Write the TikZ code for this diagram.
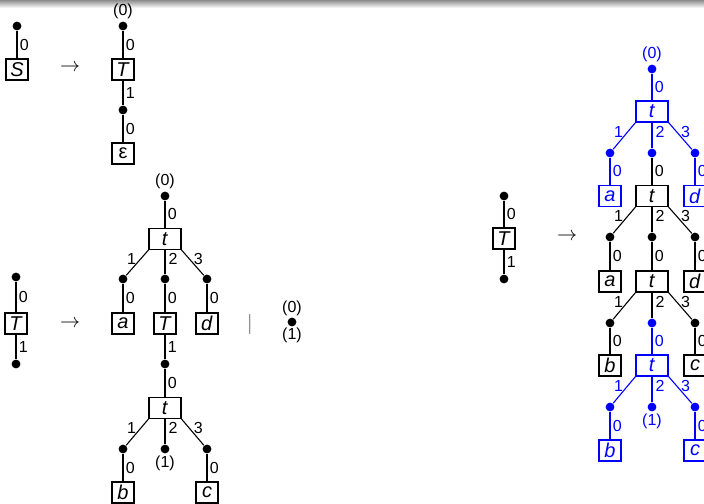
\documentclass[tikz,border=0pt]{standalone}
\usepackage{fontspec}
\setmainfont{Liberation Sans}
\usepackage{xcolor}

\tikzset{
  dot/.style={circle,fill,inner sep=0pt,minimum size=4.4pt},
  box/.style={draw,rectangle,inner sep=0pt,minimum width=11pt,minimum height=10.5pt,font=\fontsize{10}{12}\selectfont},
  wbox/.style={box,minimum width=16pt},
  lab/.style={inner sep=1.2pt,font=\fontsize{8}{9}\selectfont},
  arr/.style={inner sep=0pt,font=\fontsize{10}{11}\selectfont}
}

\begin{document}
\begin{tikzpicture}[x=0.5pt,y=-0.5pt,line width=0.55pt]
\useasboundingbox (0,0) rectangle (704,503);
\fill[white] (0,0) rectangle (704,503);
\shade[top color=black!45,bottom color=white] (0,0) rectangle (704,8);

% S -> T eps
\node[dot] (s0) at (17,26) {};
\node[box] (S) at (17,69.5) {\textit{S}};
\draw (s0) -- node[lab,right]{0} (S);
\node[arr] (ar1) at (70,68) {$\rightarrow$};
\node[dot,label={[lab,inner sep=0.6pt]above:(0)}] (u0) at (123,26) {};
\node[box] (uT) at (123,69.5) {\textit{T}};
\node[dot] (u1) at (123,110) {};
\node[box] (ueps) at (123,153.5) {ε};
\draw (u0) -- node[lab,right]{0} (uT);
\draw (uT) -- node[lab,right]{1} (u1);
\draw (u1) -- node[lab,right]{0} (ueps);

% T -> t(a,T,d) | (0)(1)
\node[dot] (v0) at (16,277) {};
\node[box] (vT) at (16,323.5) {\textit{T}};
\node[dot] (v1) at (16,364) {};
\draw (v0) -- node[lab,right]{0} (vT);
\draw (vT) -- node[lab,right]{1} (v1);
\node[arr] (ar2) at (70,324) {$\rightarrow$};

\node[dot,label={[lab,inner sep=0.6pt]above:(0)}] (m0) at (165,196) {};
\node[wbox] (mt1) at (165,239) {\textit{t}};
\node[dot] (m1a) at (123,279) {};
\node[dot] (m1b) at (165,279) {};
\node[dot] (m1c) at (207,279) {};
\node[box] (ma) at (123,323.5) {\textit{a}};
\node[box] (mT) at (165,323.5) {\textit{T}};
\node[box] (md) at (207,323.5) {\textit{d}};
\draw (m0) -- node[lab,right]{0} (mt1);
\draw (mt1.south west) -- node[lab,left,pos=0.35,inner sep=2pt]{1} (m1a);
\draw (mt1) -- node[lab,right,pos=0.35,inner sep=1.5pt]{2} (m1b);
\draw (mt1.south east) -- node[lab,right,pos=0.35,inner sep=2pt]{3} (m1c);
\draw (m1a) -- node[lab,right]{0} (ma);
\draw (m1b) -- node[lab,right]{0} (mT);
\draw (m1c) -- node[lab,right]{0} (md);
\node[dot] (m2) at (165,364) {};
\node[wbox] (mt2) at (165,408) {\textit{t}};
\node[dot] (m3a) at (123,449) {};
\node[dot,label={[lab,inner sep=0.6pt]below:(1)}] (m3b) at (165,449) {};
\node[dot] (m3c) at (207,449) {};
\node[box] (mb) at (123,492.5) {\textit{b}};
\node[box] (mc) at (207,492.5) {\textit{c}};
\draw (mT) -- node[lab,right]{1} (m2);
\draw (m2) -- node[lab,right]{0} (mt2);
\draw (mt2.south west) -- node[lab,left,pos=0.35,inner sep=2pt]{1} (m3a);
\draw (mt2) -- node[lab,right,pos=0.35,inner sep=1.5pt]{2} (m3b);
\draw (mt2.south east) -- node[lab,right,pos=0.35,inner sep=2pt]{3} (m3c);
\draw (m3a) -- node[lab,right]{0} (mb);
\draw (m3c) -- node[lab,right]{0} (mc);

\node[arr,text=black!70] (bar) at (250,324) {$|$};
\node[dot,label={[lab,inner sep=0.3pt]above:(0)},label={[lab,inner sep=0.3pt]below:(1)}] (n0) at (292,322) {};

% T -> derived tree
\node[dot] (w0) at (504,196) {};
\node[box] (wT) at (504,238.5) {\textit{T}};
\node[dot] (w1) at (504,279) {};
\draw (w0) -- node[lab,right]{0} (wT);
\draw (wT) -- node[lab,right]{1} (w1);
\node[arr] (ar3) at (567,237) {$\rightarrow$};

\node[dot,blue,label={[lab,blue,inner sep=0.6pt]above:(0)}] (r0) at (652,69) {};
\node[wbox,blue] (rt1) at (652,111.5) {\textit{t}};
\node[dot,blue] (r1a) at (610,153) {};
\node[dot,blue] (r1b) at (652,153) {};
\node[dot,blue] (r1c) at (695,153) {};
\node[box,blue] (ra1) at (610,196) {\textit{a}};
\node[wbox] (rt2) at (652,196) {\textit{t}};
\node[box,blue] (rd1) at (695,196) {\textit{d}};
\draw[blue] (r0) -- node[lab,right]{0} (rt1);
\draw[blue] (rt1.south west) -- node[lab,left,pos=0.35,inner sep=2pt]{1} (r1a);
\draw[blue] (rt1) -- node[lab,right,pos=0.35,inner sep=1.5pt]{2} (r1b);
\draw[blue] (rt1.south east) -- node[lab,right,pos=0.35,inner sep=2pt]{3} (r1c);
\draw[blue] (r1a) -- node[lab,right]{0} (ra1);
\draw (r1b) -- node[lab,right]{0} (rt2);
\draw[blue] (r1c) -- node[lab,right]{0} (rd1);

\node[dot] (r2a) at (610,237) {};
\node[dot] (r2b) at (652,237) {};
\node[dot] (r2c) at (695,237) {};
\node[box] (ra2) at (610,281.5) {\textit{a}};
\node[wbox] (rt3) at (652,281.5) {\textit{t}};
\node[box] (rd2) at (695,281.5) {\textit{d}};
\draw (rt2.south west) -- node[lab,left,pos=0.35,inner sep=2pt]{1} (r2a);
\draw (rt2) -- node[lab,right,pos=0.35,inner sep=1.5pt]{2} (r2b);
\draw (rt2.south east) -- node[lab,right,pos=0.35,inner sep=2pt]{3} (r2c);
\draw (r2a) -- node[lab,right]{0} (ra2);
\draw (r2b) -- node[lab,right]{0} (rt3);
\draw (r2c) -- node[lab,right]{0} (rd2);

\node[dot] (r3a) at (610,323) {};
\node[dot,blue] (r3b) at (652,323) {};
\node[dot] (r3c) at (695,323) {};
\node[box] (rb1) at (610,365.5) {\textit{b}};
\node[wbox,blue] (rt4) at (652,365.5) {\textit{t}};
\node[box] (rc1) at (695,365.5) {\textit{c}};
\draw (rt3.south west) -- node[lab,left,pos=0.35,inner sep=2pt]{1} (r3a);
\draw (rt3) -- node[lab,right,pos=0.35,inner sep=1.5pt]{2} (r3b);
\draw (rt3.south east) -- node[lab,right,pos=0.35,inner sep=2pt]{3} (r3c);
\draw (r3a) -- node[lab,right]{0} (rb1);
\draw[blue] (r3b) -- node[lab,right]{0} (rt4);
\draw (r3c) -- node[lab,right]{0} (rc1);

\node[dot,blue] (r4a) at (610,407) {};
\node[dot,blue,label={[lab,blue,inner sep=0.6pt]below:(1)}] (r4b) at (652,407) {};
\node[dot,blue] (r4c) at (695,407) {};
\node[box,blue] (rb2) at (610,450.5) {\textit{b}};
\node[box,blue] (rc2) at (695,450.5) {\textit{c}};
\draw[blue] (rt4.south west) -- node[lab,left,pos=0.35,inner sep=2pt]{1} (r4a);
\draw[blue] (rt4) -- node[lab,right,pos=0.35,inner sep=1.5pt]{2} (r4b);
\draw[blue] (rt4.south east) -- node[lab,right,pos=0.35,inner sep=2pt]{3} (r4c);
\draw[blue] (r4a) -- node[lab,right]{0} (rb2);
\draw[blue] (r4c) -- node[lab,right]{0} (rc2);
\end{tikzpicture}
\end{document}
